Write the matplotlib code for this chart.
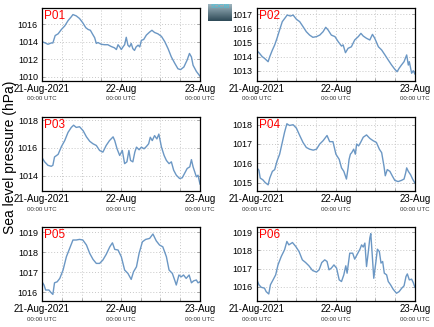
import numpy as np
import matplotlib
matplotlib.use("Agg")
import matplotlib.pyplot as plt
from matplotlib.ticker import MultipleLocator

plt.rcParams['font.family'] = ['Liberation Sans', 'DejaVu Sans']

# hours since 21-Aug-2021 00:00 UTC and sea level pressure (hPa)
p01_t = [0, 1, 1.8, 2.8, 3.3, 4, 4.9, 5.9, 6.9, 7.9, 8.9, 9.4, 10.4, 11.4, 12.4, 13.3, 14, 14.7,
         15.3, 16, 16.5, 17, 18, 19, 20, 21, 22, 22.6, 23.1, 23.6, 24.1, 24.6, 25.1, 25.6, 26.1,
         26.6, 27.1, 27.6, 28.1, 28.6, 29.2, 29.7, 30.2, 30.9, 31.7, 32.7, 33.4, 34.2, 35.2, 36.3,
         37.3, 38.3, 39.3, 40.3, 41.3, 42.1, 43.1, 44.1, 44.8, 45.4, 45.9, 46.9, 48]
p01_v = [1014.0, 1013.85, 1013.7, 1013.85, 1013.85, 1014.7, 1014.9, 1015.4, 1015.8, 1016.4,
         1016.85, 1017.1, 1016.95, 1016.65, 1016.15, 1015.6, 1015.4, 1015.3, 1014.9, 1014.45,
         1013.8, 1013.9, 1013.7, 1013.65, 1013.65, 1013.45, 1013.3, 1013.1, 1013.65, 1013.4,
         1013.1, 1013.4, 1013.65, 1014.5, 1013.6, 1013.4, 1013.8, 1013.2, 1013.0, 1013.4, 1013.6,
         1013.4, 1014.15, 1014.25, 1014.75, 1015.1, 1015.3, 1015.05, 1014.9, 1014.6, 1014.0,
         1013.2, 1012.25, 1011.55, 1010.9, 1010.8, 1011.1, 1011.9, 1012.65, 1012.25, 1011.3,
         1010.6, 1010.05]

p02_t = [0, 0.8, 1.6, 2.3, 3.4, 3.9, 4.7, 5.4, 6.1, 6.9, 7.7, 8.4, 9.2, 10.2, 11, 12, 13, 14, 15,
         16, 17, 18.1, 19.1, 20.1, 20.9, 21.6, 22.6, 23.7, 24.7, 25.7, 26.2, 26.9, 27.7, 28.7,
         29.7, 30.8, 31.6, 32.3, 33.3, 34.3, 35.1, 35.8, 36.9, 37.9, 38.9, 39.9, 40.9, 41.9, 42.6,
         43.2, 43.9, 44.7, 45.5, 46, 46.3, 47, 47.5, 48]
p02_v = [1014.42, 1014.23, 1014.0, 1013.88, 1013.64, 1014.0, 1014.47, 1014.83, 1015.3, 1015.9,
         1016.48, 1016.7, 1016.95, 1016.88, 1016.95, 1016.65, 1016.48, 1016.13, 1015.77, 1015.53,
         1015.37, 1015.42, 1015.53, 1015.77, 1016.08, 1015.9, 1015.53, 1015.42, 1015.06, 1014.75,
         1014.83, 1014.28, 1014.59, 1014.7, 1015.18, 1015.42, 1015.65, 1015.46, 1015.3, 1015.18,
         1015.58, 1015.3, 1014.7, 1014.47, 1014.12, 1013.76, 1013.41, 1013.1, 1012.93, 1013.17,
         1013.4, 1013.64, 1014.12, 1013.4, 1013.64, 1012.82, 1013.0, 1012.77]

p03_t = [0, 0.8, 1.8, 2.8, 3.3, 3.8, 4.9, 5.9, 6.9, 7.9, 8.9, 9.6, 10.4, 11.4, 12.5, 13.5, 14.5,
         15.5, 16.5, 17.5, 18.5, 19.5, 20.5, 21.6, 22.1, 22.8, 23.6, 24.4, 25.1, 25.8, 26.4, 26.9,
         27.6, 28.2, 28.7, 29.5, 30.2, 31, 31.7, 32.4, 32.9, 33.5, 34.2, 34.9, 35.5, 36.3, 37.1,
         37.8, 38.6, 39.3, 40, 40.8, 41.8, 42.6, 43.3, 44.1, 44.9, 45.4, 45.9, 46.4, 46.9, 47.4, 48]
p03_v = [1015.3, 1015.0, 1014.75, 1014.68, 1014.75, 1015.35, 1015.54, 1016.1, 1016.53, 1017.12,
         1017.48, 1017.64, 1017.48, 1017.53, 1017.24, 1016.8, 1016.48, 1016.3, 1016.18, 1015.82,
         1015.7, 1016.18, 1016.53, 1016.8, 1016.53, 1015.94, 1015.46, 1015.82, 1014.87, 1015.0,
         1015.82, 1015.1, 1015.0, 1015.7, 1016.06, 1015.87, 1016.06, 1015.94, 1016.1, 1016.3,
         1016.77, 1016.53, 1016.89, 1016.65, 1017.0, 1016.06, 1015.46, 1015.1, 1014.87, 1015.0,
         1014.4, 1014.04, 1013.8, 1013.85, 1014.16, 1014.52, 1014.64, 1015.16, 1014.64, 1014.28,
         1013.92, 1014.04, 1013.4]

p04_t = [0, 0.6, 1, 1.8, 2.5, 3.4, 3.9, 4.7, 5.4, 6.1, 6.9, 7.7, 8.4, 9.1, 9.9, 11, 12, 13, 14,
         15, 16, 17.1, 18.1, 19.1, 20.1, 21.3, 22.1, 23.1, 24, 25, 25.7, 26.4, 27.2, 27.7, 28,
         28.4, 28.8, 29.4, 29.9, 30.3, 30.9, 31.5, 32.3, 33.3, 34.3, 35.3, 36.3, 37.2, 37.9, 38.6,
         39, 39.6, 40.4, 41.2, 41.9, 42.9, 43.9, 44.7, 45.2, 45.5, 46, 46.7, 47.3, 48]
p04_v = [1015.76, 1015.64, 1015.23, 1015.14, 1015.0, 1014.88, 1015.23, 1015.58, 1015.67, 1016.11,
         1016.47, 1017.08, 1017.61, 1018.05, 1017.96, 1018.0, 1017.82, 1017.44, 1017.08, 1016.82,
         1016.73, 1016.68, 1016.73, 1017.0, 1017.17, 1017.44, 1017.12, 1017.12, 1016.47, 1016.2,
         1015.76, 1015.58, 1015.18, 1015.76, 1016.2, 1016.47, 1016.55, 1016.73, 1016.47, 1017.0,
         1016.9, 1017.08, 1017.35, 1017.47, 1017.29, 1017.17, 1017.08, 1016.73, 1016.55, 1015.85,
         1015.35, 1015.67, 1015.58, 1015.32, 1015.11, 1015.05, 1015.11, 1015.18, 1015.5, 1015.76,
         1015.58, 1015.4, 1015.18, 1014.97]

p05_t = [0, 0.6, 1.1, 2.1, 2.8, 3.3, 3.8, 4.6, 5.4, 6.4, 7.4, 8.4, 9.4, 10.4, 11.4, 12.4, 13.5,
         14.5, 15.5, 16.5, 17.5, 18.5, 19.5, 20.6, 21.4, 22.1, 23.1, 24.1, 25.1, 26.1, 27.1, 27.8,
         28.7, 29.5, 30.5, 31.5, 32.7, 33.7, 34.7, 35.7, 36.7, 37.8, 38.6, 39.6, 40.3, 40.8, 41.6,
         42.3, 43, 43.8, 44.7, 45.4, 46.1, 46.9, 47.4, 48]
p05_v = [1016.53, 1016.37, 1016.12, 1016.12, 1015.98, 1015.9, 1016.48, 1016.53, 1016.7, 1017.12,
         1017.78, 1018.2, 1018.62, 1018.62, 1018.65, 1018.62, 1018.37, 1017.95, 1017.65, 1017.45,
         1017.45, 1017.62, 1017.9, 1018.28, 1018.48, 1018.15, 1018.12, 1017.78, 1017.12, 1016.95,
         1016.65, 1017.03, 1017.28, 1017.95, 1018.53, 1018.65, 1018.7, 1018.92, 1018.58, 1018.37,
         1018.28, 1017.78, 1017.12, 1016.95, 1016.62, 1016.37, 1016.87, 1016.78, 1016.87, 1016.7,
         1016.87, 1016.48, 1016.58, 1016.62, 1016.48, 1016.53]

p06_t = [0, 0.6, 1.3, 2.3, 2.8, 3.6, 4.1, 4.9, 5.7, 6.4, 7.4, 8.4, 9.1, 9.7, 10.8, 11.8, 12.8,
         13.8, 14.8, 15.8, 16.9, 18.1, 18.9, 19.7, 20.6, 21.3, 21.9, 22.6, 23.4, 24.2, 25, 25.7,
         26.4, 27, 27.4, 28.2, 29.1, 29.7, 30.4, 31.3, 31.8, 32.3, 32.8, 33.3, 33.8, 34.3, 34.6,
         35, 35.5, 36.1, 36.6, 37.2, 37.7, 38.2, 38.7, 39.4, 39.9, 40.6, 41.4, 42.4, 43.2, 44,
         44.7, 45.3, 45.7, 46.3, 47, 47.5, 48]
p06_v = [1016.37, 1016.1, 1015.96, 1015.91, 1015.72, 1015.59, 1016.1, 1016.37, 1016.65, 1017.2,
         1017.67, 1018.04, 1018.5, 1018.31, 1018.44, 1018.22, 1017.94, 1017.48, 1017.33, 1017.15,
         1016.89, 1016.8, 1016.93, 1017.33, 1017.48, 1017.39, 1016.93, 1017.02, 1017.2, 1017.02,
         1016.37, 1016.28, 1016.65, 1017.15, 1016.74, 1017.85, 1017.85, 1017.52, 1017.76, 1018.07,
         1018.31, 1018.19, 1018.41, 1017.11, 1017.85, 1018.69, 1018.93, 1017.85, 1016.46, 1017.3,
         1018.07, 1017.94, 1017.3, 1017.39, 1016.74, 1016.65, 1016.28, 1016.1, 1015.85, 1015.63,
         1015.72, 1015.91, 1016.04, 1016.56, 1016.7, 1016.37, 1016.41, 1016.22, 1015.96]

names = ['P01', 'P02', 'P03', 'P04', 'P05', 'P06']
series = [(p01_t, p01_v), (p02_t, p02_v), (p03_t, p03_v),
          (p04_t, p04_v), (p05_t, p05_v), (p06_t, p06_v)]
ylims = [(1009.5, 1017.85), (1012.27, 1017.45), (1012.9, 1018.23),
         (1014.56, 1018.4), (1015.57, 1019.27), (1015.2, 1019.3)]
ysteps = [2, 1, 2, 1, 1, 1]
xtick_hours = [0, 24, 48]
xtick_labels = ['21-Aug-2021', '22-Aug', '23-Aug']

fig = plt.figure(figsize=(4.34, 3.27), dpi=100)

lefts = [0.0968, 0.592]
rows = [(0.7523, 0.2232), (0.4159, 0.2263), (0.0795, 0.2263)]
line_color = '#6b97c4'

for i, name in enumerate(names):
    r, c = divmod(i, 2)
    ax = fig.add_axes([lefts[c], rows[r][0], 0.364, rows[r][1]])
    t, v = series[i]
    ax.plot(t, v, color=line_color, lw=1.0)
    ax.set_xlim(0, 48)
    ax.set_ylim(*ylims[i])
    ax.yaxis.set_major_locator(MultipleLocator(ysteps[i]))
    ax.set_xticks(xtick_hours)
    ax.set_xticklabels(xtick_labels)
    ax.xaxis.set_minor_locator(MultipleLocator(6))
    ax.grid(True, which='both', color='#c8c8c8', linestyle=(0, (1, 2)), lw=0.7)
    ax.tick_params(axis='both', which='both', direction='in', length=2, width=0.5,
                   top=False, right=True, color='#888888')
    ax.tick_params(axis='x', labelsize=7, pad=2)
    ax.tick_params(axis='y', labelsize=6.5, pad=3)
    for s in ax.spines.values():
        s.set_linewidth(0.9)
    for h in xtick_hours:
        ax.text(h, -0.245, '00:00 UTC', transform=ax.get_xaxis_transform(),
                ha='center', va='center', fontsize=4.4, color='#333333')
    ax.text(0.01, 0.97, name, transform=ax.transAxes, ha='left', va='top',
            fontsize=8.5, color='red')

fig.text(0.023, 0.52, 'Sea level pressure (hPa)', rotation=90, ha='center', va='center',
         fontsize=10)

# small SOCIB logo between the top panels
lax = fig.add_axes([208 / 434, 1 - 21 / 327, 24 / 434, 17 / 327])
grad = np.linspace(0, 1, 50).reshape(-1, 1)
lax.imshow(grad, aspect='auto', cmap=matplotlib.colors.LinearSegmentedColormap.from_list(
    'logo', ['#9fb6c0', '#2e4a57']), extent=(0, 1, 0, 1))
lax.text(0.5, 0.98, 'SOCIB', ha='center', va='top', fontsize=4.5, color='#3ec6e0',
         transform=lax.transAxes)
lax.axis('off')

fig.savefig('out.png', dpi=100)
